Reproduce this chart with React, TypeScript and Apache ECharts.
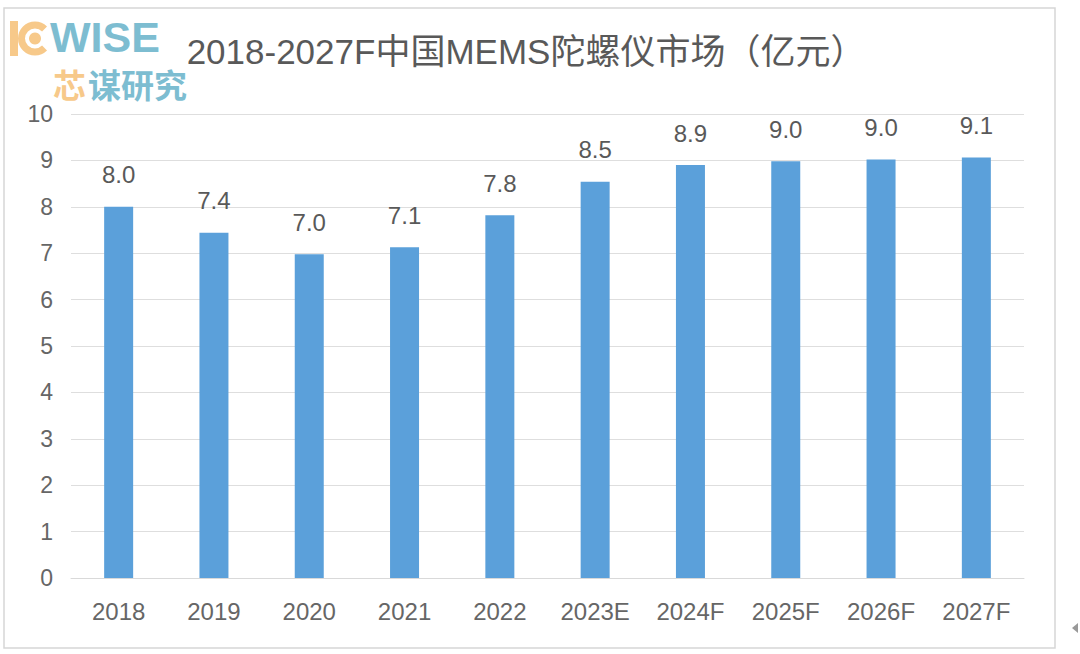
import React, { useEffect, useRef } from "react";
import * as echarts from "echarts";

const categories = ["2018", "2019", "2020", "2021", "2022", "2023E", "2024F", "2025F", "2026F", "2027F"];
const marketValues = [8.0, 7.44, 6.98, 7.13, 7.82, 8.54, 8.9, 8.98, 9.02, 9.06];
const yTicks = { min: 0, max: 10, interval: 1 };
const titleText = "2018-2027F中国MEMS陀螺仪市场（亿元）";

const FONT = "'Liberation Sans', 'Noto Sans CJK SC', sans-serif";
const ORANGE = "#f7c98a";
const TEAL = "#7dbdd1";

export default function App() {
  const ref = useRef<HTMLDivElement>(null);
  useEffect(() => {
    if (!ref.current) return;
    const chart = echarts.init(ref.current, undefined, { renderer: "svg" });
    chart.setOption({
      animation: false,
      backgroundColor: "#ffffff",
      grid: { left: 71, right: 56, top: 114, bottom: 76, containLabel: false },
      xAxis: {
        type: "category",
        data: categories,
        axisLine: { show: true, lineStyle: { color: "#d9d9d9", width: 1 } },
        axisTick: { show: false },
        axisLabel: { color: "#666666", fontSize: 24, fontFamily: FONT, margin: 21 },
      },
      yAxis: {
        type: "value",
        min: yTicks.min,
        max: yTicks.max,
        interval: yTicks.interval,
        axisLine: { show: false },
        axisTick: { show: false },
        splitLine: { lineStyle: { color: "#dedede", width: 1 } },
        axisLabel: { color: "#666666", fontSize: 23, fontFamily: FONT, margin: 18 },
      },
      series: [
        {
          type: "bar",
          data: marketValues,
          barWidth: 29,
          itemStyle: { color: "#5ba0da" },
          label: {
            show: true,
            position: "top",
            distance: 20,
            color: "#595959",
            fontSize: 24,
            fontFamily: FONT,
            formatter: (p: any) => Number(p.value).toFixed(1),
          },
        },
      ],
      graphic: [
        {
          type: "rect",
          shape: { x: 4, y: 8, width: 1051, height: 640 },
          style: { fill: "none", stroke: "#d6d6d6", lineWidth: 1.5 },
          silent: true,
        },
        {
          type: "polygon",
          shape: { points: [[1072, 628], [1078, 623], [1078, 633]] },
          style: { fill: "#999999" },
        },
        {
          type: "text",
          x: 526,
          y: 51,
          style: {
            text: titleText,
            fill: "#595959",
            fontSize: 35,
            fontFamily: FONT,
            align: "center",
            verticalAlign: "middle",
          },
        },
        // Logo
        {
          type: "rect",
          shape: { x: 10, y: 21, width: 8, height: 35 },
          style: { fill: ORANGE },
        },
        {
          type: "arc",
          shape: { cx: 35, cy: 38.5, r: 13.5, startAngle: Math.PI * 0.25, endAngle: Math.PI * 1.75, clockwise: true },
          style: { stroke: ORANGE, lineWidth: 7, fill: "none" },
        },
        {
          type: "circle",
          shape: { cx: 35, cy: 38.5, r: 6 },
          style: { fill: ORANGE },
        },
        {
          type: "text",
          x: 50,
          y: 37,
          style: {
            text: "WISE",
            fill: TEAL,
            fontSize: 43,
            fontWeight: "bold",
            fontFamily: "'Liberation Sans Narrow', 'Liberation Sans', sans-serif",
            verticalAlign: "middle",
            align: "left",
          },
        },
        {
          type: "text",
          x: 53,
          y: 84,
          style: {
            text: "芯",
            fill: ORANGE,
            fontSize: 33,
            fontWeight: "bold",
            fontFamily: "'Noto Sans CJK SC', sans-serif",
            verticalAlign: "middle",
          },
        },
        {
          type: "text",
          x: 88,
          y: 84,
          style: {
            text: "谋研究",
            fill: TEAL,
            fontSize: 33,
            fontWeight: "bold",
            fontFamily: "'Noto Sans CJK SC', sans-serif",
            verticalAlign: "middle",
          },
        },
      ],
    });
    return () => chart.dispose();
  }, []);
  return (
    <div
      ref={ref}
      style={{ position: "fixed", left: 0, top: 0, width: 1080, height: 654 }}
    />
  );
}
